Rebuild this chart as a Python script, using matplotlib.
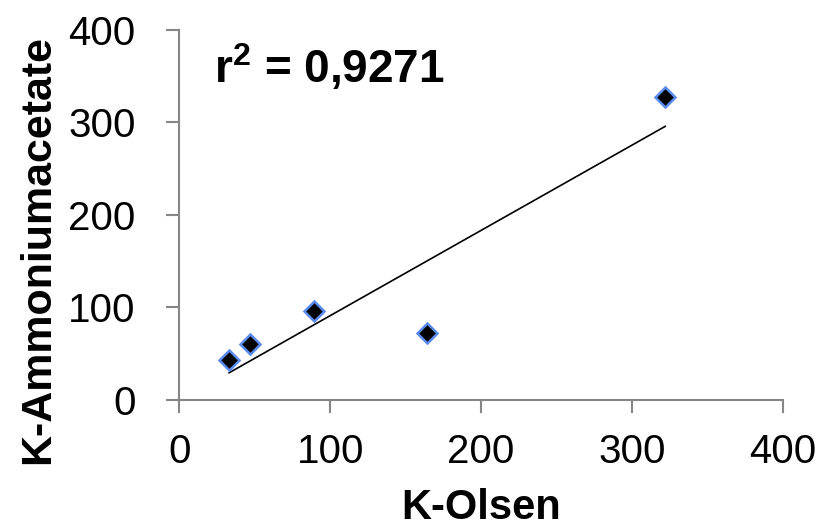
import numpy as np
import matplotlib.pyplot as plt

plt.rcParams['font.family'] = ['Liberation Sans', 'DejaVu Sans']
plt.rcParams['mathtext.fontset'] = 'custom'
plt.rcParams['mathtext.rm'] = 'Liberation Sans'
plt.rcParams['mathtext.bf'] = 'Liberation Sans:bold'

# K-Olsen vs K-Ammoniumacetate
k_olsen = [33, 47, 89, 164, 322]
k_ammonium = [43, 60, 96, 72, 327]
r2_text = r"r$^\mathbf{2}$ = 0,9271"

fig = plt.figure(figsize=(8.32, 5.27), dpi=100)
ax = fig.add_axes([0.2155, 0.241, 0.7255, 0.703])

ax.plot(k_olsen, k_ammonium, linestyle='none', marker='D', markersize=10,
        markerfacecolor='black', markeredgecolor='#5a8cf0', markeredgewidth=1.8,
        zorder=3)

# linear trendline
coef = np.polyfit(k_olsen, k_ammonium, 1)
xs = np.array([min(k_olsen), max(k_olsen)])
ax.plot(xs, np.polyval(coef, xs), color='black', linewidth=1.2, zorder=2)

ax.text(23, 342, r2_text, fontsize=33, fontweight='bold', va='baseline', ha='left')

ax.set_xlim(0, 400)
ax.set_ylim(0, 400)
ax.set_xticks([0, 100, 200, 300, 400])
ax.set_yticks([0, 100, 200, 300, 400])

for s in ['top', 'right']:
    ax.spines[s].set_visible(False)
for s in ['left', 'bottom']:
    ax.spines[s].set_color('#868686')
    ax.spines[s].set_linewidth(1.5)

ax.tick_params(axis='both', direction='out', length=9.5, width=1.5, color='#868686',
               labelsize=29)
ax.tick_params(axis='y', pad=22)
ax.tick_params(axis='x', pad=14)

fig.text(481 / 832, 1 - 519 / 527, 'K-Olsen', fontsize=30, fontweight='bold',
         ha='center', va='baseline')
fig.text(38 / 832, 1 - 250 / 527, 'K-Ammoniumacetate', fontsize=31, fontweight='bold',
         ha='center', va='center', rotation=90)

fig.savefig('out.png', dpi=100)
